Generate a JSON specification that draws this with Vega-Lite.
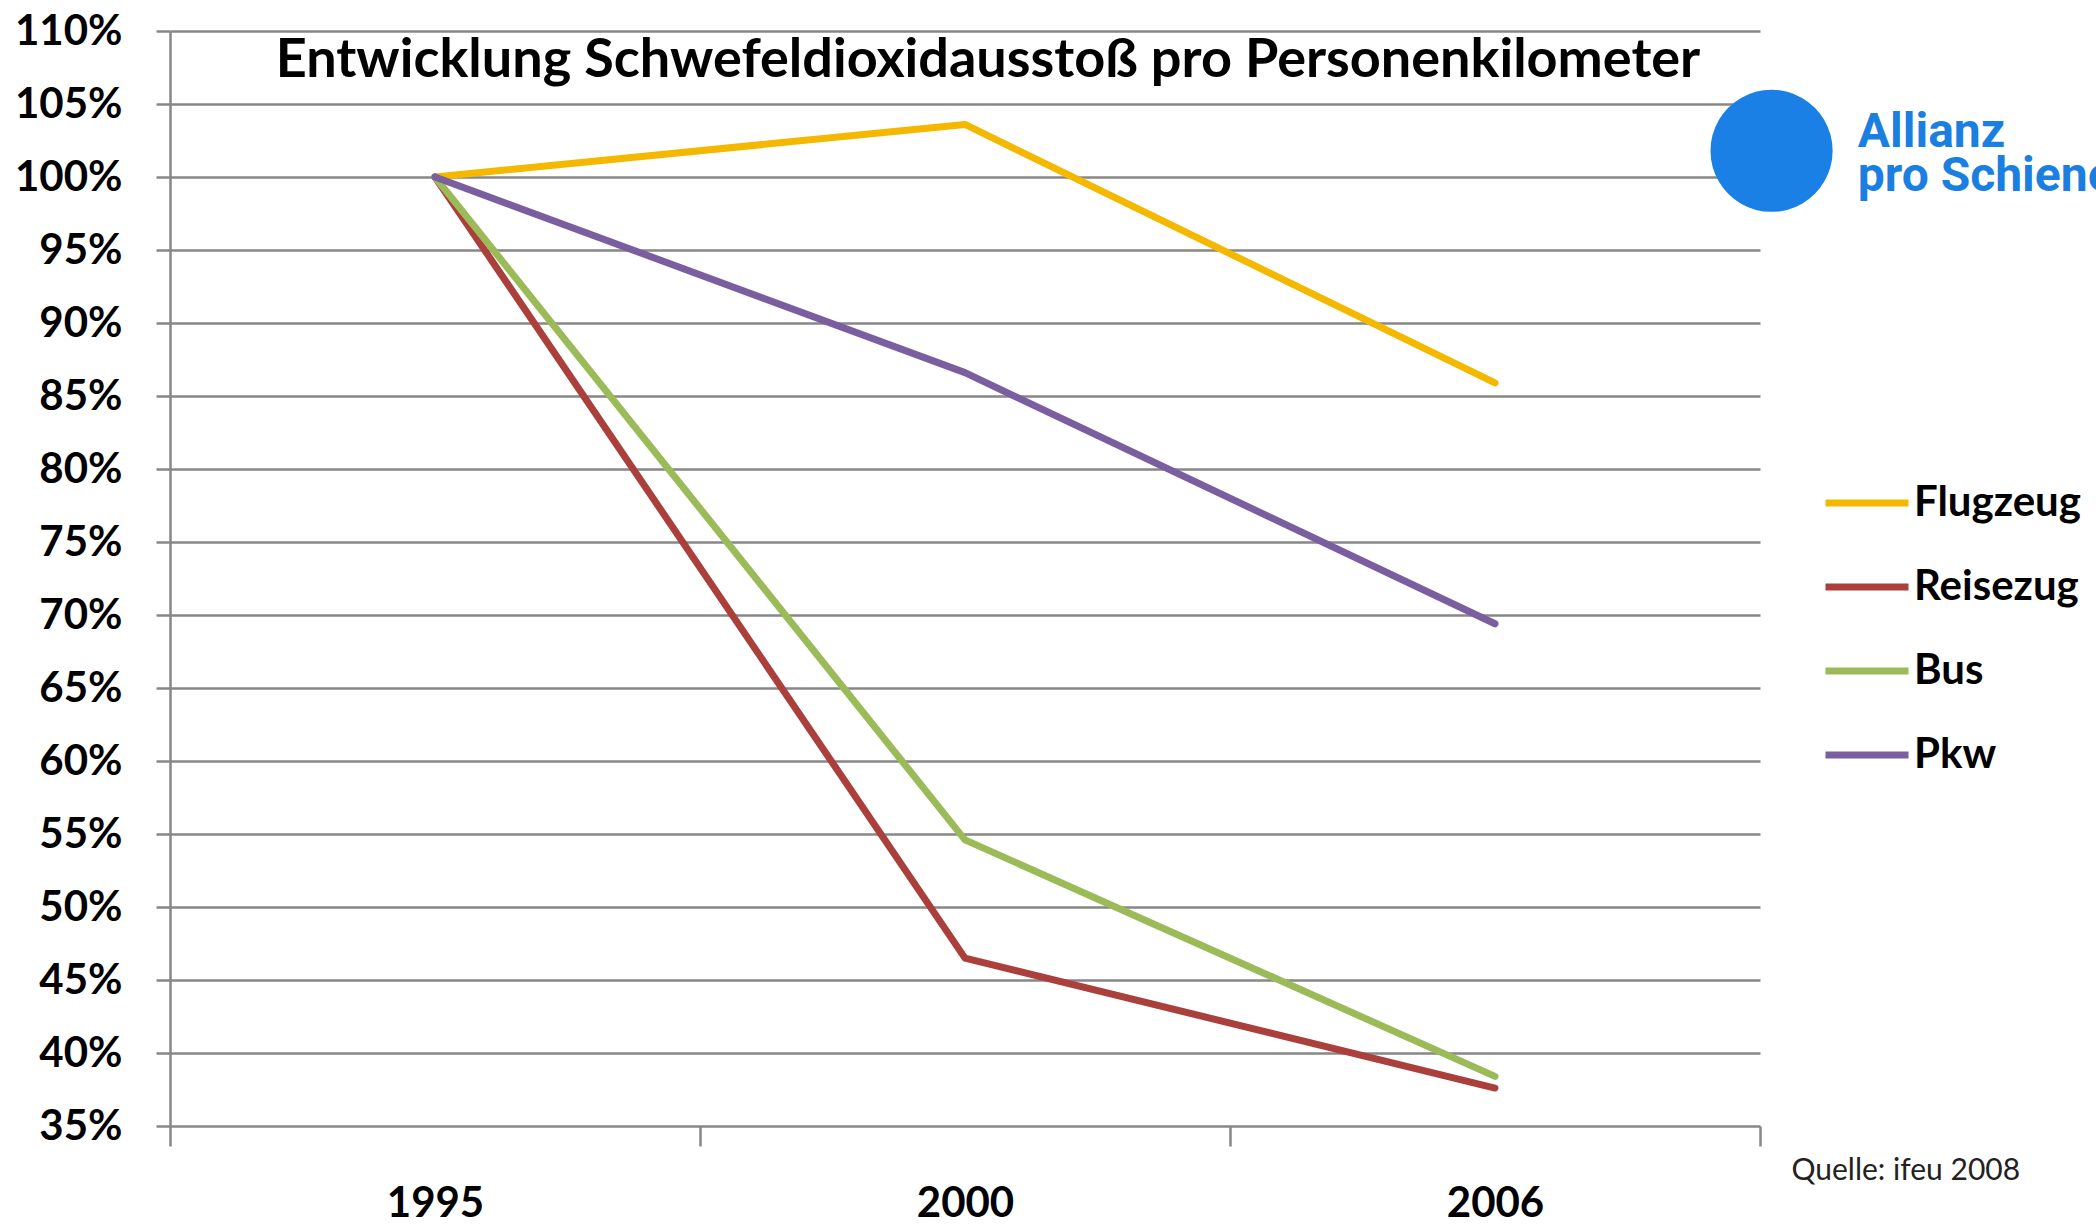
{
  "$schema": "https://vega.github.io/schema/vega-lite/v6.json",
  "width": 1590,
  "height": 1095,
  "autosize": {"type": "none"},
  "padding": {"left": 170, "top": 31, "right": 336, "bottom": 99},
  "background": "white",
  "title": {
    "text": "Entwicklung Schwefeldioxidausstoß pro Personenkilometer",
    "font": "Lato",
    "fontSize": 54,
    "fontWeight": "bold",
    "color": "black",
    "anchor": "middle",
    "frame": "group",
    "baseline": "alphabetic",
    "offset": -121,
    "dx": 23
  },
  "data": {
    "values": [
      {"year": "1995", "mode": "Flugzeug", "value": 100},
      {"year": "2000", "mode": "Flugzeug", "value": 103.6},
      {"year": "2006", "mode": "Flugzeug", "value": 85.9},
      {"year": "1995", "mode": "Reisezug", "value": 100},
      {"year": "2000", "mode": "Reisezug", "value": 46.5},
      {"year": "2006", "mode": "Reisezug", "value": 37.6},
      {"year": "1995", "mode": "Bus", "value": 100},
      {"year": "2000", "mode": "Bus", "value": 54.6},
      {"year": "2006", "mode": "Bus", "value": 38.4},
      {"year": "1995", "mode": "Pkw", "value": 100},
      {"year": "2000", "mode": "Pkw", "value": 86.6},
      {"year": "2006", "mode": "Pkw", "value": 69.4}
    ]
  },
  "mark": {"type": "line", "strokeWidth": 7, "strokeCap": "round", "strokeJoin": "round"},
  "encoding": {
    "x": {
      "field": "year",
      "type": "nominal",
      "sort": ["1995", "2000", "2006"],
      "scale": {"type": "band", "paddingInner": 0, "paddingOuter": 0},
      "axis": {
        "title": "Quelle: ifeu 2008",
        "titleX": 1621,
        "titleY": 44,
        "titleAlign": "left",
        "titleBaseline": "middle",
        "titleFont": "Lato",
        "titleFontSize": 30,
        "titleFontWeight": "normal",
        "titleColor": "#222222",
        "labelAngle": 0,
        "labelFont": "Lato",
        "labelFontSize": 42,
        "labelFontWeight": "bold",
        "labelColor": "black",
        "labelPadding": 37,
        "tickBand": "extent",
        "tickSize": 20,
        "tickColor": "#878787",
        "tickWidth": 2.5,
        "domain": false,
        "grid": false
      }
    },
    "y": {
      "field": "value",
      "type": "quantitative",
      "scale": {"domain": [35, 110], "nice": false, "zero": false},
      "axis": {
        "values": [35, 40, 45, 50, 55, 60, 65, 70, 75, 80, 85, 90, 95, 100, 105, 110],
        "labelExpr": "datum.value + '%'",
        "labelFont": "Lato",
        "labelFontSize": 42,
        "labelFontWeight": "bold",
        "labelColor": "black",
        "labelPadding": 34,
        "tickSize": 14,
        "tickColor": "#878787",
        "tickWidth": 2.5,
        "domainColor": "#878787",
        "domainWidth": 2.5,
        "grid": true,
        "gridColor": "#878787",
        "gridWidth": 2.5,
        "title": "●",
        "titleColor": "#1A80E5",
        "titleFont": "DejaVu Sans",
        "titleFontSize": 160,
        "titleFontWeight": "normal",
        "titleAngle": 0,
        "titleX": 1601,
        "titleY": 112,
        "titleAlign": "center",
        "titleBaseline": "middle"
      }
    },
    "color": {
      "field": "mode",
      "type": "nominal",
      "scale": {
        "domain": ["Flugzeug", "Reisezug", "Bus", "Pkw"],
        "range": ["#F5B800", "#AA3F3B", "#9BBB59", "#7B5EA0"]
      },
      "legend": {
        "orient": "none",
        "legendX": 1652,
        "legendY": 78,
        "padding": 0,
        "title": ["\u200b\u00a0\u00a0\u00a0Allianz", "\u200b\u00a0\u00a0\u00a0pro Schiene"],
        "titleColor": "#1A7FE0",
        "titleFont": "Roboto",
        "titleFontSize": 48,
        "titleFontWeight": "bold",
        "titleLineHeight": 44,
        "titlePadding": 257,
        "titleLimit": 1000,
        "symbolType": "stroke",
        "symbolSize": 6889,
        "symbolStrokeWidth": 7,
        "labelFont": "Lato",
        "labelFontSize": 42,
        "labelFontWeight": "bold",
        "labelColor": "black",
        "labelOffset": 2,
        "labelLimit": 500,
        "rowPadding": 18
      }
    }
  },
  "config": {"view": {"stroke": null}}
}
